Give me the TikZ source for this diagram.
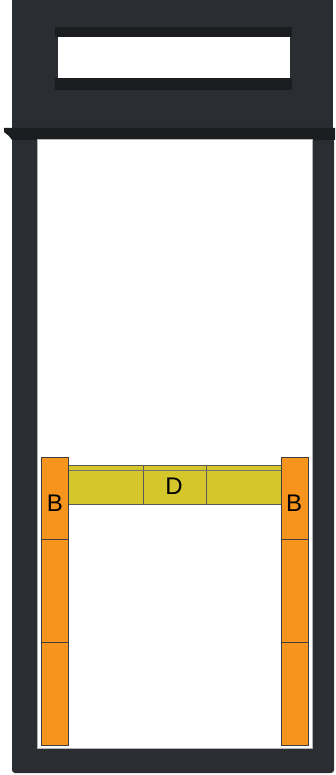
\documentclass[tikz,border=0pt]{standalone}
\usepackage{fontspec}
\setmainfont{Liberation Sans}
\definecolor{framegray}{HTML}{2A2D32}
\definecolor{shelfgray}{HTML}{1B1D20}
\definecolor{brickorange}{HTML}{F7941E}
\definecolor{beamyellow}{HTML}{D4C62B}

\begin{document}
\begin{tikzpicture}[x=1pt, y=-1pt,
    brick/.style={rectangle, draw=black!75, fill=brickorange, line width=1pt, anchor=north west, inner sep=0pt, minimum width=27pt},
    beam/.style={rectangle, draw=black!65, fill=beamyellow, line width=1pt, anchor=north west, inner sep=0pt, minimum height=39pt},
    lbl/.style={font=\fontsize{24}{28}\selectfont}]

    \useasboundingbox (0,0) rectangle (335,775);

    % Frame
    \fill[framegray] (12,0) rectangle (333,128);
    \fill[framegray, rounded corners=3pt] (12,138) rectangle (334,773);
    \fill[shelfgray] (4,128) -- (335,128) -- (335,140) -- (12,140) -- (9,136) -- (4,132) -- cycle;
    \fill[white, draw=gray!60, line width=1pt] (37,140) rectangle (312,748);

    % Window
    \fill[shelfgray] (55,27) rectangle (292,37);
    \fill[white] (58,37) rectangle (290,78);
    \fill[shelfgray] (55,78) rectangle (292,90);

    % Beam
    \node[beam, minimum width=75pt] (d1) at (68,465) {};
    \node[beam, minimum width=63pt] (d2) at (143,465) {};
    \node[beam, minimum width=75pt] (d3) at (206,465) {};
    \draw[black!55, line width=0.7pt] ([yshift=-5pt]d1.north west) -- ([yshift=-5pt]d3.north east);
    \node[lbl] (dlbl) at (174,486) {D};

    % Left bricks
    \node[brick, minimum height=82pt] (bl1) at (41,457) {};
    \node[brick, minimum height=103pt] (bl2) at (41,539) {};
    \node[brick, minimum height=103pt] (bl3) at (41,642) {};
    \node[lbl] (bllbl) at (55,503) {B};

    % Right bricks
    \node[brick, minimum height=82pt] (br1) at (281,457) {};
    \node[brick, minimum height=103pt] (br2) at (281,539) {};
    \node[brick, minimum height=103pt] (br3) at (281,642) {};
    \node[lbl] (brlbl) at (294,503) {B};
\end{tikzpicture}
\end{document}
